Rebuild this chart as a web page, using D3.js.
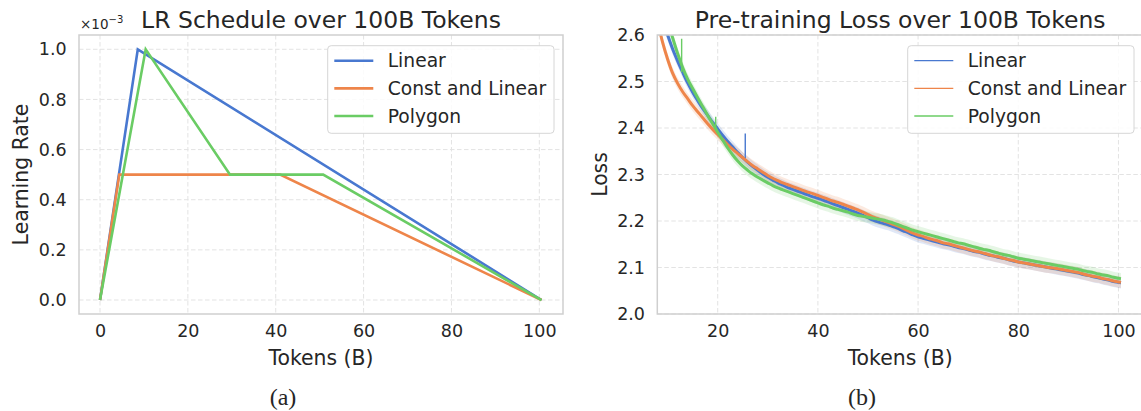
<!DOCTYPE html>
<html>
<head>
<meta charset="utf-8">
<script src="https://cdn.jsdelivr.net/npm/d3@7"></script>
<style>
  body { margin: 0; background: #fff; }
  svg { display: block; }
  text { font-family: "DejaVu Sans", sans-serif; fill: #262626; }
</style>
</head>
<body>
<svg id="fig" width="1141" height="411"></svg>
<script>
// ---------- series names and colours ----------
const seriesNames = ["Linear", "Const and Linear", "Polygon"];
const seriesColors = ["#4878d0", "#ee854a", "#6acc64"];

// ---------- (a) learning-rate schedules (tokens in B, LR in units of 1e-3) ----------
const linearTokens = [0, 8.6, 100.5];
const linearLR = [0, 1.0, 0];
const constTokens = [0, 4.4, 41.0, 100.5];
const constLR = [0, 0.5, 0.5, 0];
const polygonTokens = [0, 10.4, 29.6, 50.8, 100.5];
const polygonLR = [0, 1.0, 0.5, 0.5, 0];

// ---------- (b) pre-training loss, one value per billion tokens ----------
const lossTokens = [
  8, 9, 10, 11, 12, 13, 14, 15, 16, 17,
  18, 19, 20, 21, 22, 23, 24, 25, 26, 27,
  28, 29, 30, 31, 32, 33, 34, 35, 36, 37,
  38, 39, 40, 41, 42, 43, 44, 45, 46, 47,
  48, 49, 50, 51, 52, 53, 54, 55, 56, 57,
  58, 59, 60, 61, 62, 63, 64, 65, 66, 67,
  68, 69, 70, 71, 72, 73, 74, 75, 76, 77,
  78, 79, 80, 81, 82, 83, 84, 85, 86, 87,
  88, 89, 90, 91, 92, 93, 94, 95, 96, 97,
  98, 99, 100, 100.5
];
const linearLoss = [
  2.668, 2.632, 2.600, 2.570, 2.544, 2.520, 2.497, 2.477, 2.459, 2.442,
  2.427, 2.412, 2.398, 2.384, 2.371, 2.359, 2.347, 2.336, 2.326, 2.317,
  2.309, 2.301, 2.294, 2.288, 2.282, 2.277, 2.272, 2.268, 2.264, 2.260,
  2.256, 2.252, 2.249, 2.245, 2.241, 2.237, 2.233, 2.229, 2.225, 2.221,
  2.217, 2.212, 2.207, 2.202, 2.198, 2.195, 2.192, 2.188, 2.184, 2.179,
  2.175, 2.170, 2.166, 2.163, 2.160, 2.157, 2.154, 2.151, 2.149, 2.146,
  2.143, 2.141, 2.138, 2.135, 2.133, 2.130, 2.127, 2.125, 2.122, 2.120,
  2.117, 2.114, 2.112, 2.110, 2.108, 2.106, 2.104, 2.102, 2.100, 2.098,
  2.096, 2.094, 2.092, 2.090, 2.088, 2.085, 2.083, 2.080, 2.078, 2.075,
  2.073, 2.070, 2.068, 2.067
];
const constLoss = [
  2.629, 2.584, 2.548, 2.518, 2.496, 2.478, 2.463, 2.448, 2.435, 2.422,
  2.409, 2.397, 2.386, 2.375, 2.364, 2.354, 2.345, 2.336, 2.327, 2.319,
  2.312, 2.305, 2.298, 2.292, 2.287, 2.282, 2.278, 2.274, 2.270, 2.266,
  2.262, 2.259, 2.255, 2.251, 2.247, 2.243, 2.240, 2.236, 2.232, 2.228,
  2.224, 2.219, 2.214, 2.209, 2.205, 2.201, 2.197, 2.193, 2.189, 2.184,
  2.179, 2.174, 2.170, 2.167, 2.163, 2.160, 2.157, 2.153, 2.151, 2.148,
  2.145, 2.142, 2.139, 2.136, 2.134, 2.131, 2.128, 2.125, 2.123, 2.120,
  2.117, 2.115, 2.112, 2.110, 2.108, 2.106, 2.104, 2.102, 2.100, 2.099,
  2.097, 2.095, 2.093, 2.091, 2.089, 2.086, 2.083, 2.081, 2.079, 2.076,
  2.074, 2.071, 2.069, 2.068
];
const polygonLoss = [
  2.710, 2.670, 2.630, 2.594, 2.560, 2.530, 2.505, 2.485, 2.465, 2.446,
  2.427, 2.409, 2.391, 2.374, 2.357, 2.342, 2.329, 2.318, 2.309, 2.301,
  2.294, 2.288, 2.282, 2.276, 2.271, 2.267, 2.263, 2.259, 2.255, 2.251,
  2.247, 2.243, 2.239, 2.235, 2.232, 2.228, 2.225, 2.222, 2.219, 2.215,
  2.212, 2.210, 2.208, 2.206, 2.204, 2.202, 2.199, 2.196, 2.192, 2.188,
  2.184, 2.180, 2.177, 2.174, 2.171, 2.168, 2.165, 2.162, 2.159, 2.156,
  2.153, 2.151, 2.148, 2.145, 2.142, 2.139, 2.137, 2.134, 2.131, 2.128,
  2.126, 2.123, 2.120, 2.118, 2.116, 2.114, 2.112, 2.110, 2.108, 2.106,
  2.104, 2.102, 2.100, 2.098, 2.096, 2.093, 2.091, 2.089, 2.086, 2.084,
  2.082, 2.079, 2.077, 2.076
];
// loss spikes: [token, base, peak]
const linearSpikes = [[25.5, 2.331, 2.388]];
const constSpikes = [];
const polygonSpikes = [[12.8, 2.520, 2.592], [19.6, 2.398, 2.424]];
// spread of the shaded band around each loss curve
const lossSpread = 0.012;

// ---------- axis ticks and labels ----------
const lrXTicks = [0, 20, 40, 60, 80, 100];
const lrYTicks = [0, 0.2, 0.4, 0.6, 0.8, 1.0];
const lossXTicks = [20, 40, 60, 80, 100];
const lossYTicks = [2.0, 2.1, 2.2, 2.3, 2.4, 2.5, 2.6];
const titles = ["LR Schedule over 100B Tokens", "Pre-training Loss over 100B Tokens"];
const xLabel = "Tokens (B)";
const yLabels = ["Learning Rate", "Loss"];
const captions = ["(a)", "(b)"];

// ---------- layout ----------
const svg = d3.select("#fig");
const panelA = { left: 79, right: 563, top: 35, bottom: 314 };
const panelB = { left: 657.3, right: 1143, top: 35, bottom: 314 };

const xA = d3.scaleLinear().domain([-4.78, 105.39]).range([panelA.left, panelA.right]);
const yA = d3.scaleLinear().domain([-0.0558, 1.057]).range([panelA.bottom, panelA.top]);
const xB = d3.scaleLinear().domain([7.94, 104.9]).range([panelB.left, panelB.right]);
const yB = d3.scaleLinear().domain([2.0, 2.6]).range([panelB.bottom, panelB.top]);

const gridColor = "#e3e3e3";
const spineColor = "#cfcfcf";
const tickFont = 17.5;

function drawFrame(p, x, y, xt, yt, fmtY, fmtX) {
  const g = svg.append("g");
  // dashed grid
  g.selectAll("line.gx").data(xt).join("line")
    .attr("x1", d => x(d)).attr("x2", d => x(d))
    .attr("y1", p.top).attr("y2", p.bottom)
    .attr("stroke", gridColor).attr("stroke-width", 1)
    .attr("stroke-dasharray", "4.5,2.5");
  g.selectAll("line.gy").data(yt).join("line")
    .attr("y1", d => y(d)).attr("y2", d => y(d))
    .attr("x1", p.left).attr("x2", p.right)
    .attr("stroke", gridColor).attr("stroke-width", 1)
    .attr("stroke-dasharray", "4.5,2.5");
  // axes (labels only, no tick marks)
  const ax = g.append("g").attr("transform", `translate(0,${p.bottom})`)
    .call(d3.axisBottom(x).tickValues(xt).tickSize(0).tickPadding(11).tickFormat(fmtX));
  const ay = g.append("g").attr("transform", `translate(${p.left},0)`)
    .call(d3.axisLeft(y).tickValues(yt).tickSize(0).tickPadding(12.3).tickFormat(fmtY));
  [ax, ay].forEach(a => {
    a.select(".domain").remove();
    a.selectAll("text").attr("font-size", tickFont)
      .attr("font-family", "DejaVu Sans, sans-serif").attr("fill", "#262626");
  });
  return g;
}

function drawSpines(p) {
  svg.append("rect")
    .attr("x", p.left).attr("y", p.top)
    .attr("width", p.right - p.left).attr("height", p.bottom - p.top)
    .attr("fill", "none").attr("stroke", spineColor).attr("stroke-width", 1.5);
}

function drawLegend(x0, y0, lineWidth) {
  const g = svg.append("g").attr("transform", `translate(${x0},${y0})`);
  g.append("rect").attr("x", 0).attr("y", 0).attr("width", 226.3).attr("height", 87.6)
    .attr("rx", 3.5).attr("fill", "#fff").attr("fill-opacity", 0.85)
    .attr("stroke", "#d6d6d6").attr("stroke-width", 1);
  seriesNames.forEach((name, i) => {
    const cy = 15 + i * 27.65;
    g.append("line").attr("x1", 6.6).attr("x2", 45.6).attr("y1", cy).attr("y2", cy)
      .attr("stroke", seriesColors[i]).attr("stroke-width", lineWidth);
    g.append("text").attr("x", 60).attr("y", cy).attr("dy", "0.36em")
      .attr("font-size", 18.7).text(name);
  });
}

// ================= (a) LR schedule =================
drawFrame(panelA, xA, yA, lrXTicks, lrYTicks, d3.format(".1f"), d3.format("d"));

const schedules = [
  { t: linearTokens, v: linearLR },
  { t: constTokens, v: constLR },
  { t: polygonTokens, v: polygonLR }
];
const lineA = d3.line().x(d => xA(d[0])).y(d => yA(d[1]));
schedules.forEach((s, i) => {
  svg.append("path")
    .datum(s.t.map((t, j) => [t, s.v[j]]))
    .attr("d", lineA)
    .attr("fill", "none").attr("stroke", seriesColors[i])
    .attr("stroke-width", 2.6).attr("stroke-linejoin", "miter");
});
drawSpines(panelA);

// offset text for the 1e-3 scale
const offs = svg.append("text").attr("x", panelA.left + 1).attr("y", 29).attr("font-size", 13.5);
offs.append("tspan").text("\u00d710");
offs.append("tspan").attr("dy", -6).attr("font-size", 10).text("\u22123");

drawLegend(327.7, 45.7, 2.6);

// ================= (b) pre-training loss =================
drawFrame(panelB, xB, yB, lossXTicks, lossYTicks, d3.format(".1f"), d3.format("d"));

svg.append("clipPath").attr("id", "clipB").append("rect")
  .attr("x", panelB.left).attr("y", panelB.top)
  .attr("width", panelB.right - panelB.left).attr("height", panelB.bottom - panelB.top);
const plotB = svg.append("g").attr("clip-path", "url(#clipB)");

const losses = [linearLoss, constLoss, polygonLoss];
const spikes = [linearSpikes, constSpikes, polygonSpikes];

const areaB = d3.area()
  .curve(d3.curveMonotoneX)
  .x(d => xB(d[0]))
  .y0(d => yB(d[1] - lossSpread))
  .y1(d => yB(d[1] + lossSpread));
const lineB = d3.line().curve(d3.curveMonotoneX).x(d => xB(d[0])).y(d => yB(d[1]));

// shaded bands first, then curves
losses.forEach((vals, i) => {
  const pts = lossTokens.map((t, j) => [t, vals[j]]);
  plotB.append("path").datum(pts).attr("d", areaB)
    .attr("fill", seriesColors[i]).attr("fill-opacity", 0.17);
});
losses.forEach((vals, i) => {
  const pts = lossTokens.map((t, j) => [t, vals[j]]);
  plotB.append("path").datum(pts).attr("d", lineB)
    .attr("fill", "none").attr("stroke", seriesColors[i])
    .attr("stroke-width", 3).attr("stroke-linejoin", "round");
  plotB.selectAll(null).data(spikes[i]).join("line")
    .attr("x1", d => xB(d[0])).attr("x2", d => xB(d[0]))
    .attr("y1", d => yB(d[1])).attr("y2", d => yB(d[2]))
    .attr("stroke", seriesColors[i]).attr("stroke-width", 1.4);
});
drawSpines(panelB);
drawLegend(907.7, 45.7, 1.3);

// ================= titles, axis labels, captions =================
[panelA, panelB].forEach((p, i) => {
  const cx = (p.left + p.right) / 2;
  svg.append("text").attr("x", cx).attr("y", 28.3)
    .attr("text-anchor", "middle").attr("font-size", 23.5).text(titles[i]);
  svg.append("text").attr("x", cx).attr("y", 364.5)
    .attr("text-anchor", "middle").attr("font-size", 20.4).text(xLabel);
});
svg.append("text").attr("transform", "translate(28,174.5) rotate(-90)")
  .attr("text-anchor", "middle").attr("font-size", 20.4).text(yLabels[0]);
svg.append("text").attr("transform", "translate(606.5,174.5) rotate(-90)")
  .attr("text-anchor", "middle").attr("font-size", 20.4).text(yLabels[1]);

[283, 862].forEach((cx, i) => {
  svg.append("text").attr("x", cx).attr("y", 405)
    .attr("text-anchor", "middle").attr("font-size", 24)
    .style("font-family", "'Liberation Serif', 'DejaVu Serif', serif")
    .text(captions[i]);
});
</script>
</body>
</html>
